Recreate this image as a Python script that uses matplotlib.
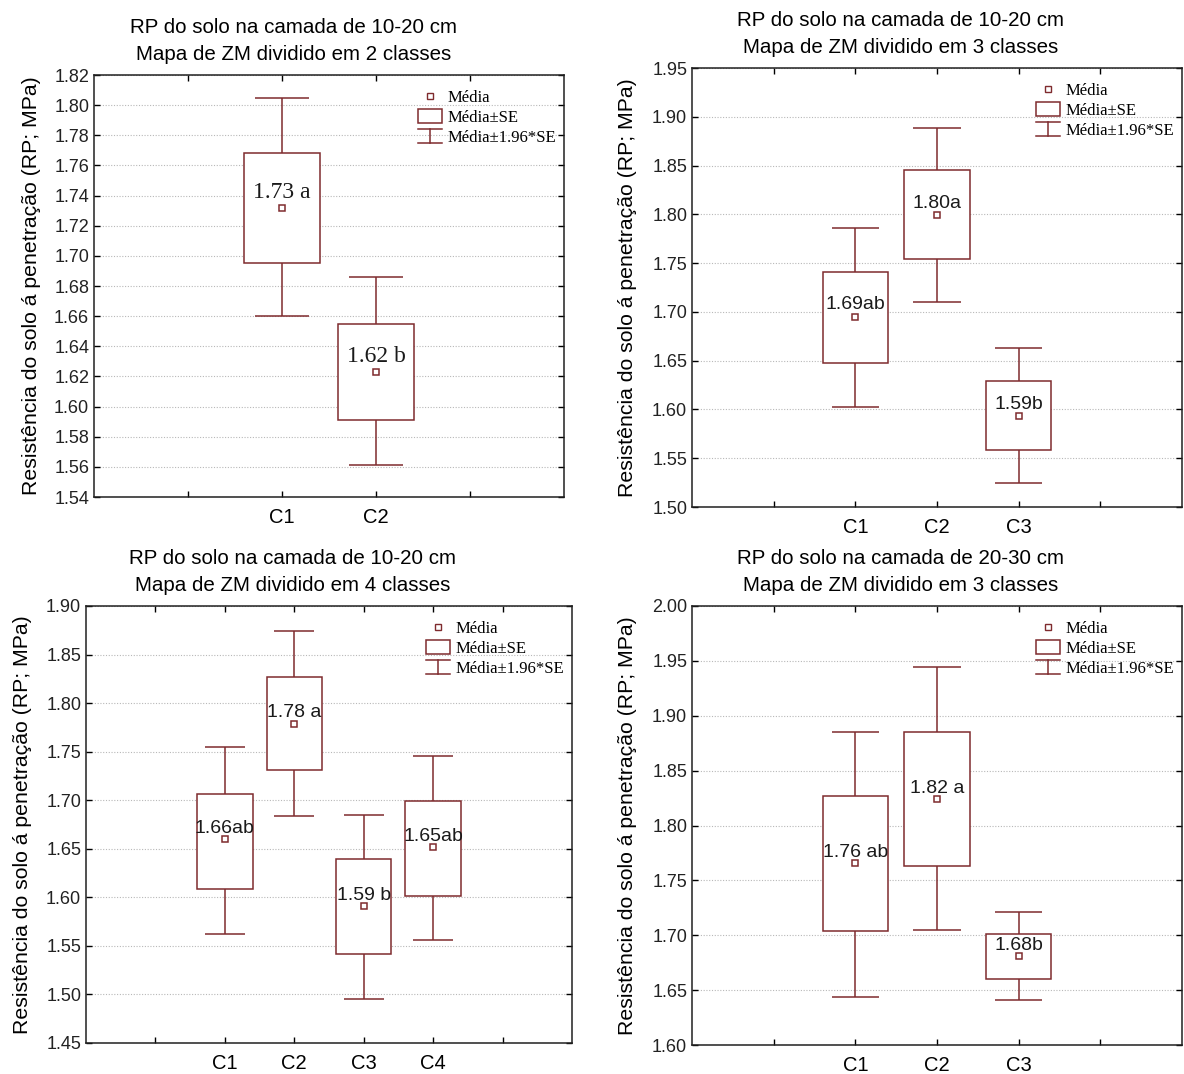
import matplotlib
matplotlib.use('Agg')
import matplotlib.pyplot as plt
from matplotlib.lines import Line2D
from matplotlib.patches import Rectangle
from matplotlib.legend_handler import HandlerBase
from matplotlib.ticker import MultipleLocator, FormatStrFormatter

MAROON = '#7f2b2e'
SANS = 'Liberation Sans'
SERIF = 'Liberation Serif'

# --- data ------------------------------------------------------------------
title_line1 = ['RP do solo na camada de 10-20 cm', 'RP do solo na camada de 10-20 cm',
               'RP do solo na camada de 10-20 cm', 'RP do solo na camada de 20-30 cm']
title_line2 = ['Mapa de ZM dividido em 2 classes', 'Mapa de ZM dividido em 3 classes',
               'Mapa de ZM dividido em 4 classes', 'Mapa de ZM dividido em 3 classes']
ylabel = 'Resistência do solo á penetração (RP; MPa)'

# 10-20 cm, 2 classes
p1_classes = ['C1', 'C2']
p1_mean = [1.732, 1.623]
p1_se_lo = [1.695, 1.591]
p1_se_hi = [1.768, 1.655]
p1_ci_lo = [1.660, 1.561]
p1_ci_hi = [1.805, 1.686]
p1_text = ['1.73 a', '1.62 b']

# 10-20 cm, 3 classes
p2_classes = ['C1', 'C2', 'C3']
p2_mean = [1.695, 1.799, 1.593]
p2_se_lo = [1.648, 1.754, 1.558]
p2_se_hi = [1.741, 1.845, 1.629]
p2_ci_lo = [1.603, 1.710, 1.525]
p2_ci_hi = [1.786, 1.889, 1.663]
p2_text = ['1.69ab', '1.80a', '1.59b']

# 10-20 cm, 4 classes
p3_classes = ['C1', 'C2', 'C3', 'C4']
p3_mean = [1.660, 1.779, 1.591, 1.652]
p3_se_lo = [1.609, 1.731, 1.542, 1.601]
p3_se_hi = [1.706, 1.827, 1.639, 1.699]
p3_ci_lo = [1.562, 1.684, 1.495, 1.556]
p3_ci_hi = [1.755, 1.874, 1.685, 1.746]
p3_text = ['1.66ab', '1.78 a', '1.59 b', '1.65ab']

# 20-30 cm, 3 classes
p4_classes = ['C1', 'C2', 'C3']
p4_mean = [1.766, 1.824, 1.681]
p4_se_lo = [1.704, 1.763, 1.660]
p4_se_hi = [1.827, 1.885, 1.701]
p4_ci_lo = [1.644, 1.705, 1.641]
p4_ci_hi = [1.885, 1.944, 1.721]
p4_text = ['1.76 ab', '1.82 a', '1.68b']

legend_labels = ['Média', 'Média±SE', 'Média±1.96*SE']


class HandlerIBeam(HandlerBase):
    """Legend symbol for the 1.96*SE whisker: an I-beam."""
    def create_artists(self, legend, orig_handle, xdescent, ydescent,
                       width, height, fontsize, trans):
        x0, x1 = -xdescent, -xdescent + width
        y0, y1 = -ydescent, -ydescent + height
        xm = (x0 + x1) / 2
        segs = [([x0, x1], [y1, y1]), ([xm, xm], [y0, y1]), ([x0, x1], [y0, y0])]
        out = []
        for xs, ys in segs:
            ln = Line2D(xs, ys, color=MAROON, lw=1.1)
            ln.set_transform(trans)
            out.append(ln)
        return out


def draw_panel(ax, classes, mean, se_lo, se_hi, ci_lo, ci_hi, texts,
               ylim, ystep, fmt, title, text_font, text_size, text_off):
    n = len(classes)
    pos = list(range(2, n + 2))

    ax.vlines(pos, ci_lo, ci_hi, color=MAROON, lw=1.1, zorder=2)
    ax.hlines(ci_lo, [p - 0.29 for p in pos], [p + 0.29 for p in pos], color=MAROON, lw=1.1, zorder=2)
    ax.hlines(ci_hi, [p - 0.29 for p in pos], [p + 0.29 for p in pos], color=MAROON, lw=1.1, zorder=2)
    ax.bar(pos, [h - l for h, l in zip(se_hi, se_lo)], bottom=se_lo, width=0.8,
           facecolor='white', edgecolor=MAROON, linewidth=1.1, zorder=3)
    ax.plot(pos, mean, 's', ms=4.5, mfc='white', mec=MAROON, mew=1.1, zorder=5)

    for p, m, t in zip(pos, mean, texts):
        ax.annotate(t, (p, m), xytext=(0, text_off), textcoords='offset points',
                    ha='center', va='baseline', fontsize=text_size,
                    family=text_font, color='#1a1a1a', zorder=6)

    ax.set_xlim(0, n + 3)
    ax.set_xticks(range(1, n + 3))
    ax.set_xticklabels([''] + classes + [''], fontsize=14.5, family=SANS)
    ax.set_ylim(*ylim)
    ax.yaxis.set_major_locator(MultipleLocator(ystep))
    ax.yaxis.set_major_formatter(FormatStrFormatter(fmt))
    for lab in ax.get_yticklabels():
        lab.set_family(SANS)
        lab.set_fontsize(13)
        lab.set_color('#222222')
    ax.tick_params(direction='in', top=True, right=True, length=4, width=1.0)
    ax.tick_params(axis='x', pad=8)
    ax.yaxis.grid(True, linestyle=(0, (1, 1.5)), color='#b8b8b8', lw=0.8)
    ax.set_axisbelow(True)
    for s in ax.spines.values():
        s.set_linewidth(1.1)
        s.set_color('#202020')

    ax.set_title(title, fontsize=14.8, family=SANS, x=0.425, pad=11, linespacing=1.5)
    ax.set_ylabel(ylabel, fontsize=15.3, family=SANS)
    ax.yaxis.set_label_coords(-0.112, 0.5)

    h_mean = Line2D([], [], marker='s', ls='none', ms=4, mfc='white', mec=MAROON, mew=1.0)
    h_box = Rectangle((0, 0), 1, 1, facecolor='white', edgecolor=MAROON, lw=1.1)
    h_ci = Line2D([], [])
    ax.legend([h_mean, h_box, h_ci], legend_labels, loc='upper right',
              bbox_to_anchor=(1.005, 0.99), frameon=False,
              prop={'family': SERIF, 'size': 12}, handlelength=1.45,
              handleheight=0.9, handletextpad=0.35, labelspacing=0.2,
              borderpad=0.3, borderaxespad=0.3, numpoints=1,
              handler_map={h_ci: HandlerIBeam()})


fig = plt.figure(figsize=(11.84, 10.74), dpi=100)
W, H = 1184.0, 1074.0


def add_axes(left, top, right, bottom):
    return fig.add_axes([left / W, 1 - bottom / H, (right - left) / W, (bottom - top) / H])


ax1 = add_axes(94, 75, 564, 497)
ax2 = add_axes(692, 68, 1182, 507)
ax3 = add_axes(86, 606, 572, 1043)
ax4 = add_axes(692, 606, 1182, 1045)

draw_panel(ax1, p1_classes, p1_mean, p1_se_lo, p1_se_hi, p1_ci_lo, p1_ci_hi, p1_text,
           (1.54, 1.82), 0.02, '%.2f', title_line1[0] + '\n' + title_line2[0], SERIF, 17, 7)
draw_panel(ax2, p2_classes, p2_mean, p2_se_lo, p2_se_hi, p2_ci_lo, p2_ci_hi, p2_text,
           (1.50, 1.95), 0.05, '%.2f', title_line1[1] + '\n' + title_line2[1], SANS, 14, 5.5)
draw_panel(ax3, p3_classes, p3_mean, p3_se_lo, p3_se_hi, p3_ci_lo, p3_ci_hi, p3_text,
           (1.45, 1.90), 0.05, '%.2f', title_line1[2] + '\n' + title_line2[2], SANS, 14, 4.5)
draw_panel(ax4, p4_classes, p4_mean, p4_se_lo, p4_se_hi, p4_ci_lo, p4_ci_hi, p4_text,
           (1.60, 2.00), 0.05, '%.2f', title_line1[3] + '\n' + title_line2[3], SANS, 14, 4.5)

fig.savefig('out.png', dpi=100)
